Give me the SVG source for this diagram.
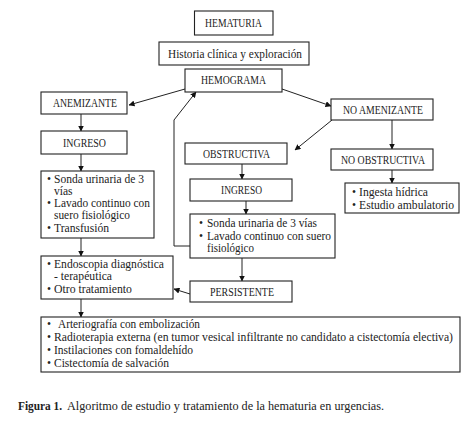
<svg xmlns="http://www.w3.org/2000/svg" width="474" height="421" viewBox="0 0 474 421">
<defs>
<marker id="ah" markerWidth="6" markerHeight="6" refX="5.5" refY="3" orient="auto" markerUnits="userSpaceOnUse">
<path d="M0,0 L6,3 L0,6 Z" fill="#111"/>
</marker>
<style>
rect{fill:#fff;stroke:#222;stroke-width:1.1}
text{font-family:"Liberation Serif","DejaVu Serif",serif;font-size:11.5px;fill:#222}
.c{text-anchor:middle}
.l line,.l polyline{stroke:#222;stroke-width:1;fill:none}
.a{marker-end:url(#ah)}
</style>
</defs>
<rect x="0" y="0" width="474" height="421" style="fill:#fff;stroke:none"/>
<g class="l" id="connectors">
<line class="a" x1="185" y1="89" x2="129" y2="105"/>
<line class="a" x1="282" y1="89" x2="331" y2="106"/>
<line class="a" x1="81" y1="114" x2="81" y2="131"/>
<line class="a" x1="81" y1="154" x2="81" y2="171"/>
<line class="a" x1="81" y1="238" x2="81" y2="256"/>
<line class="a" x1="81" y1="299" x2="81" y2="317"/>
<line class="a" x1="332" y1="120" x2="295" y2="150"/>
<line class="a" x1="392" y1="120" x2="392" y2="149"/>
<line class="a" x1="392" y1="170" x2="392" y2="183"/>
<line class="a" x1="242" y1="164" x2="242" y2="179"/>
<line class="a" x1="246" y1="201" x2="246" y2="214"/>
<line class="a" x1="242" y1="258" x2="242" y2="281"/>
<line class="a" x1="190" y1="294" x2="174" y2="289"/>
<polyline points="190,246 174,246 174,120"/>
<line class="a" x1="174" y1="120" x2="196" y2="92"/>
</g>
<g id="hematuria"><rect x="194.5" y="11" width="78.5" height="24"/><text x="233.5" y="27" class="c" textLength="57" lengthAdjust="spacingAndGlyphs">HEMATURIA</text></g>
<g id="historia"><rect x="159" y="42" width="150" height="23"/><text x="235" y="57.5" class="c" textLength="134" lengthAdjust="spacingAndGlyphs">Historia clínica y exploración</text></g>
<g id="hemograma"><rect x="185" y="69" width="97" height="23"/><text x="233.5" y="84" class="c" textLength="65" lengthAdjust="spacingAndGlyphs">HEMOGRAMA</text></g>
<g id="anemizante"><rect x="41" y="92" width="86" height="22"/><text x="85" y="107" class="c" textLength="64" lengthAdjust="spacingAndGlyphs">ANEMIZANTE</text></g>
<g id="no-amenizante"><rect x="331" y="99" width="102" height="21"/><text x="383" y="114" class="c" textLength="80" lengthAdjust="spacingAndGlyphs">NO AMENIZANTE</text></g>
<g id="ingreso-1"><rect x="41" y="131" width="86" height="23"/><text x="84.5" y="146.5" class="c" textLength="43" lengthAdjust="spacingAndGlyphs">INGRESO</text></g>
<g id="sonda-1"><rect x="41" y="171" width="113" height="67"/>
<text x="47" y="183">•</text><text x="54" y="183" textLength="90" lengthAdjust="spacingAndGlyphs">Sonda urinaria de 3</text>
<text x="54" y="195">vías</text>
<text x="47" y="207">•</text><text x="54" y="207" textLength="96" lengthAdjust="spacingAndGlyphs">Lavado continuo con</text>
<text x="54" y="219" textLength="76" lengthAdjust="spacingAndGlyphs">suero fisiológico</text>
<text x="47" y="232">•</text><text x="54" y="232" textLength="55" lengthAdjust="spacingAndGlyphs">Transfusión</text></g>
<g id="endoscopia"><rect x="41" y="256" width="132" height="43"/>
<text x="47" y="268">•</text><text x="54" y="268" textLength="110" lengthAdjust="spacingAndGlyphs">Endoscopia diagnóstica</text>
<text x="54" y="280" textLength="58" lengthAdjust="spacingAndGlyphs">- terapéutica</text>
<text x="47" y="293">•</text><text x="54" y="293" textLength="78" lengthAdjust="spacingAndGlyphs">Otro tratamiento</text></g>
<g id="obstructiva"><rect x="185" y="143" width="102" height="21"/><text x="236.5" y="157.5" class="c" textLength="67" lengthAdjust="spacingAndGlyphs">OBSTRUCTIVA</text></g>
<g id="no-obstructiva"><rect x="331" y="149" width="102" height="21"/><text x="383" y="163.5" class="c" textLength="84" lengthAdjust="spacingAndGlyphs">NO OBSTRUCTIVA</text></g>
<g id="ingesta"><rect x="345" y="183" width="114" height="30"/>
<text x="352" y="196">•</text><text x="359" y="196" textLength="69" lengthAdjust="spacingAndGlyphs">Ingesta hídrica</text>
<text x="352" y="208.5">•</text><text x="359" y="208.5" textLength="95" lengthAdjust="spacingAndGlyphs">Estudio ambulatorio</text></g>
<g id="ingreso-2"><rect x="190" y="179" width="102" height="22"/><text x="241.5" y="194" class="c" textLength="41" lengthAdjust="spacingAndGlyphs">INGRESO</text></g>
<g id="sonda-2"><rect x="190" y="214" width="145" height="44"/>
<text x="199" y="227">•</text><text x="207" y="227" textLength="110" lengthAdjust="spacingAndGlyphs">Sonda urinaria de 3 vías</text>
<text x="199" y="240">•</text><text x="207" y="240" textLength="124" lengthAdjust="spacingAndGlyphs">Lavado continuo con suero</text>
<text x="207" y="252" textLength="47" lengthAdjust="spacingAndGlyphs">fisiológico</text></g>
<g id="persistente"><rect x="190" y="281" width="102" height="21"/><text x="242" y="295.5" class="c" textLength="64" lengthAdjust="spacingAndGlyphs">PERSISTENTE</text></g>
<g id="tratamientos"><rect x="41" y="317" width="419" height="55"/>
<text x="47" y="327.5">•</text><text x="58" y="327.5" textLength="142" lengthAdjust="spacingAndGlyphs">Arteriografía con embolización</text>
<text x="47" y="340.5">•</text><text x="54" y="340.5" textLength="399" lengthAdjust="spacingAndGlyphs">Radioterapia externa (en tumor vesical infiltrante no candidato a cistectomía electiva)</text>
<text x="47" y="353.5">•</text><text x="54" y="353.5" textLength="139" lengthAdjust="spacingAndGlyphs">Instilaciones con fomaldehído</text>
<text x="47" y="366.5">•</text><text x="54" y="366.5" textLength="115" lengthAdjust="spacingAndGlyphs">Cistectomía de salvación</text></g>
<g id="caption"><text x="18" y="409.5" style="font-weight:bold" textLength="44" lengthAdjust="spacingAndGlyphs">Figura 1.</text><text x="67" y="409.5" textLength="317" lengthAdjust="spacingAndGlyphs">Algoritmo de estudio y tratamiento de la hematuria en urgencias.</text></g>
</svg>
